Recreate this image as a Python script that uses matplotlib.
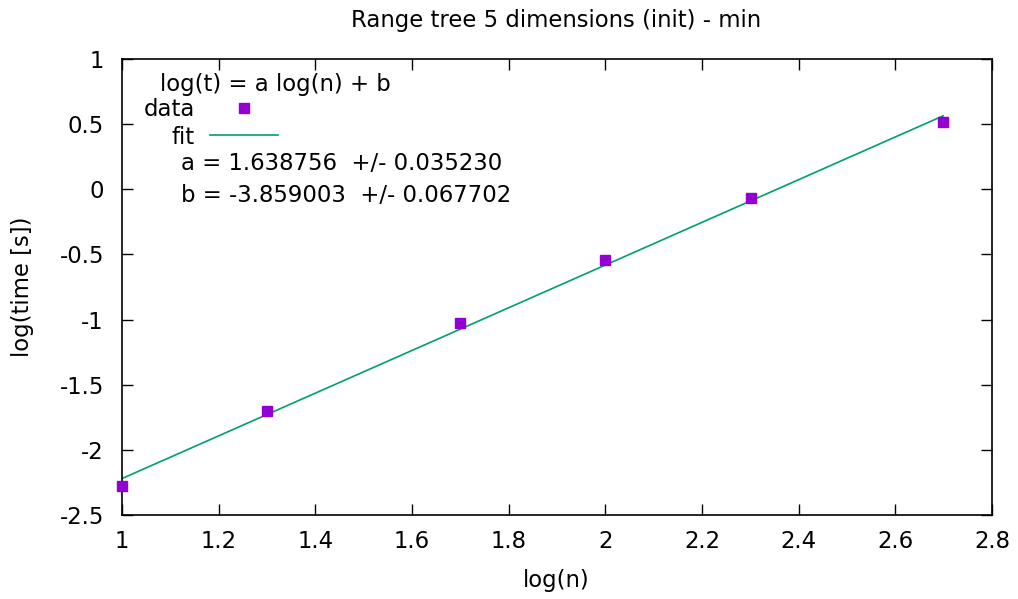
"""Range tree 5 dimensions (init) - min: log-log fit."""

from matplotlib import pyplot
import numpy

# Measured points (log10 n, log10 time).
log_n = [1.0, 1.30103, 1.69897, 2.0, 2.30103, 2.69897]
log_t = [-2.275, -1.700, -1.025, -0.545, -0.068, 0.515]

# Fit parameters as reported.
a = 1.638756
b = -3.859003
a_err = 0.035230
b_err = 0.067702

xticks = [1, 1.2, 1.4, 1.6, 1.8, 2, 2.2, 2.4, 2.6, 2.8]
yticks = [-2.5, -2, -1.5, -1, -0.5, 0, 0.5, 1]

purple = '#9400d3'
green = '#009e73'

pyplot.rc('font', family='DejaVu Sans', size=16.4)
fig = pyplot.figure(figsize=(10.18, 5.99), dpi=100)
ax = fig.add_axes([0.1198, 0.1402, 0.8547, 0.7613])

xfit = numpy.array([log_n[0], log_n[-1]])
ax.plot(xfit, a * xfit + b, color=green, lw=1.2, zorder=2)
ax.plot(log_n, log_t, 's', color=purple, ms=7, zorder=3, clip_on=False)

ax.set_xlim(1, 2.8)
ax.set_ylim(-2.5, 1)
ax.set_xticks(xticks)
ax.set_xticklabels([f'{v:g}' for v in xticks])
ax.set_yticks(yticks)
ax.set_yticklabels([f'{v:g}' for v in yticks])
ax.tick_params(direction='in', length=8, width=1, top=True, right=True)
ax.tick_params(axis='y', pad=13)
ax.tick_params(axis='x', pad=11)
for s in ax.spines.values():
    s.set_linewidth(1.2)

# Key / annotation block and axis labels placed in figure pixels.
W, H = 1018, 599


def fx(px):
    return px / W


def fy(py):
    return 1 - py / H


fig.text(fx(556), fy(20), 'Range tree 5 dimensions (init) - min',
         va='center', ha='center')
fig.text(fx(556), fy(580), 'log(n)', va='center', ha='center')
fig.text(fx(22), fy(287), 'log(time [s])', va='center', ha='center',
         rotation=90)

fig.text(fx(160), fy(84), 'log(t) = a log(n) + b', va='center', ha='left')
fig.text(fx(195), fy(110), 'data', va='center', ha='right')
fig.add_artist(pyplot.Line2D([fx(244)], [fy(108)], marker='s', color=purple,
                             ms=7, transform=fig.transFigure))
fig.text(fx(195), fy(137), 'fit', va='center', ha='right')
fig.add_artist(pyplot.Line2D([fx(210), fx(278)], [fy(135), fy(135)],
                             color=green, lw=1.2, transform=fig.transFigure))
fig.text(fx(181), fy(164), f'a = {a:.6f}  +/- {a_err:.6f}', va='center',
         ha='left')
fig.text(fx(181), fy(196), f'b = {b:.6f}  +/- {b_err:.6f}', va='center',
         ha='left')

fig.savefig('out.png', dpi=100)
